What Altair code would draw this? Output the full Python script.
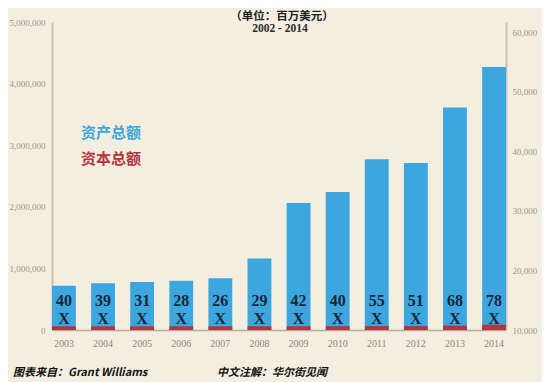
import altair as alt
import pandas as pd

years = ["2003", "2004", "2005", "2006", "2007", "2008", "2009", "2010", "2011", "2012", "2013", "2014"]
assets = [720000, 760000, 780000, 800000, 840000, 1160000, 2060000, 2240000, 2770000, 2710000, 3610000, 4270000]
capital = [60000, 60000, 60000, 60000, 60000, 60000, 62000, 62000, 64000, 64000, 70000, 85000]
leverage = ["40", "39", "31", "28", "26", "29", "42", "40", "55", "51", "68", "78"]
left_ticks = [0, 1000000, 2000000, 3000000, 4000000, 5000000]
right_ticks = [10000, 20000, 30000, 40000, 50000, 60000]

title_lines = ["（单位：百万美元）", "2002 - 2014"]
legend_labels = ["资产总额", "资本总额"]
footer = ["图表来自：Grant Williams", "中文注解：华尔街见闻"]

BG = "#f4eee0"
BLUE = "#3ca6de"
RED = "#b4343c"
NAVY = "#1b2738"
SERIF = "Liberation Serif"
CJK = "Noto Sans CJK SC"

df = pd.DataFrame({"year": years, "assets": assets, "capital": capital, "lev": leverage, "x": ["X"] * len(years)})

W, H = 454, 308
LP = 44
xenc = alt.X("year:N", sort=years,
             scale=alt.Scale(paddingInner=0.39, paddingOuter=0),
             axis=alt.Axis(title=None, labelAngle=0, ticks=False, labelPadding=8,
                           labelFont=SERIF, labelFontSize=10, labelColor="#8c877f",
                           domainColor="#b9a9a0", domainWidth=1.5))

base = alt.Chart(df)

asset_bars = base.mark_bar(color=BLUE).encode(
    x=xenc,
    y=alt.Y("assets:Q", scale=alt.Scale(domain=[0, 5000000], nice=False),
            axis=alt.Axis(title=None, values=left_ticks, format=",d", ticks=False, grid=False,
                          labelFont=SERIF, labelFontSize=9, labelColor="#9a958d", labelPadding=7,
                          domainColor="#c9c1b4", domainWidth=2)),
)
capital_bars = base.mark_bar(color=RED).encode(
    x=xenc,
    y=alt.Y("capital:Q"),
)
lev_text = base.mark_text(font=SERIF, fontWeight="bold", fontSize=16, color=NAVY, baseline="middle").encode(
    x=xenc, y=alt.value(279), text="lev:N")
x_text = base.mark_text(font=SERIF, fontWeight="bold", fontSize=16, color=NAVY, baseline="middle").encode(
    x=xenc, y=alt.value(297), text="x:N")

left = alt.layer(asset_bars, capital_bars, lev_text, x_text)

right = alt.Chart(pd.DataFrame({"r": right_ticks})).mark_point(opacity=0).encode(
    y=alt.Y("r:Q", scale=alt.Scale(domain=[10000, 61680], nice=False),
            axis=alt.Axis(title=None, orient="right", values=right_ticks, format=",d", ticks=False, grid=False,
                          labelFont=SERIF, labelFontSize=9, labelColor="#9a958d", labelPadding=6,
                          domainColor="#c9c1b4", domainWidth=2)),
    x=alt.value(W),
)

def note(txt, x, y, **kw):
    return alt.Chart(pd.DataFrame({"t": [txt]})).mark_text(**kw).encode(
        text="t:N", x=alt.value(x), y=alt.value(y))

t1 = note(title_lines[0], 230, -5, font=CJK, fontWeight="bold", fontSize=11.5, color="#222222", align="center", baseline="middle")
t2 = note(title_lines[1], 228, 6.5, font=SERIF, fontWeight="bold", fontSize=11.5, color="#2a2a2a", align="center", baseline="middle")
l1 = note(legend_labels[0], 29, 111, font=CJK, fontWeight="bold", fontSize=15, color=BLUE, align="left", baseline="middle")
l2 = note(legend_labels[1], 29, 137, font=CJK, fontWeight="bold", fontSize=15, color=RED, align="left", baseline="middle")
f1 = note(footer[0], 13 - 8 - LP, 351, font=CJK, fontWeight="bold", fontStyle="italic", fontSize=11, color="#111111", align="left", baseline="middle")
f2 = note(footer[1], 217 - 8 - LP, 351, font=CJK, fontWeight="bold", fontStyle="italic", fontSize=11, color="#111111", align="left", baseline="middle")

chart = alt.layer(left, right, t1, t2, l1, l2, f1, f2).resolve_scale(y="independent").properties(
    width=W, height=H,
    autosize=alt.AutoSizeParams(type="none"),
    padding={"left": LP, "top": 14, "right": 534 - LP - W, "bottom": 52},
    background=BG,
).configure_view(stroke=None)

chart.save("out.html", embed_options={"renderer": "svg", "actions": False})
